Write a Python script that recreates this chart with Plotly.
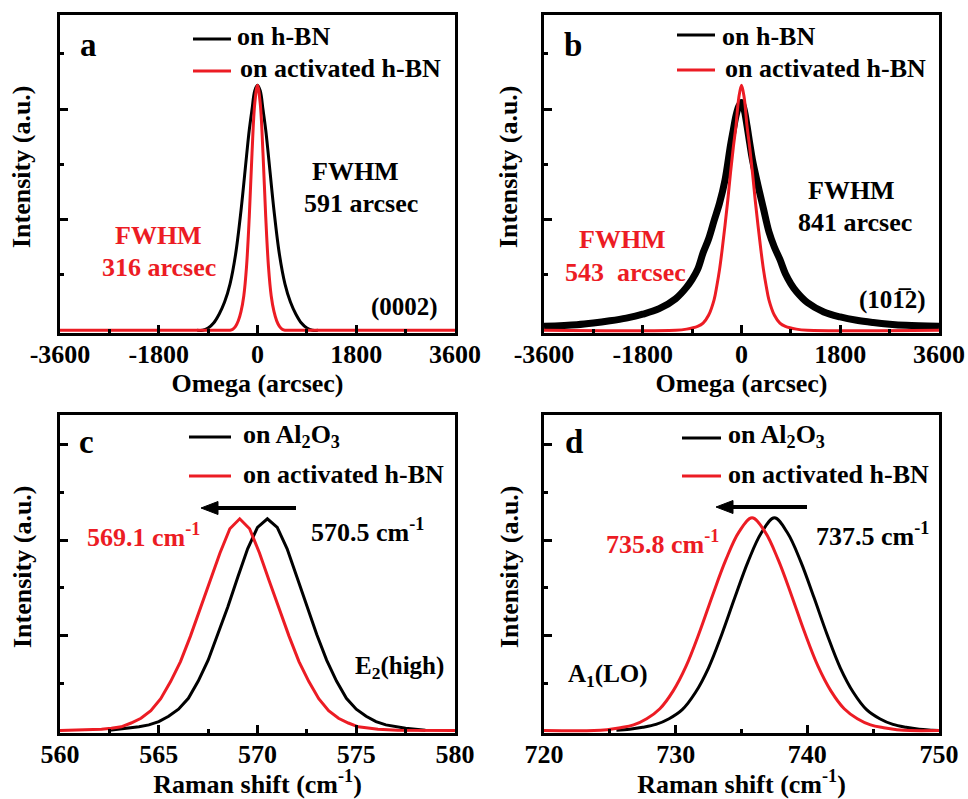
import plotly.graph_objects as go
from plotly.subplots import make_subplots

# ---------------- data ----------------
# (a) rocking curves, (0002) reflection
a_x_hbn = [-1100, -1000, -900, -800, -700, -600, -500, -400, -300, -200, -150, -100, -50, 0,
           50, 100, 150, 200, 300, 400, 500, 600, 700, 800, 900, 1000, 1100]
a_y_hbn = [0, 0, 0.04, 0.13, 0.29, 0.51, 0.84, 1.37, 2.17, 3.15, 3.62, 3.99, 4.33, 4.43,
           4.33, 3.99, 3.62, 3.15, 2.17, 1.37, 0.84, 0.51, 0.29, 0.13, 0.04, 0, 0]
a_x_act = [-3600, -600, -500, -450, -400, -350, -300, -250, -200, -150, -100, -50, 0,
           50, 100, 150, 200, 250, 300, 350, 400, 450, 500, 600, 3600]
a_y_act = [0, 0, 0, 0.02, 0.07, 0.17, 0.34, 0.62, 1.15, 2.05, 3.20, 4.10, 4.43,
           4.10, 3.20, 2.05, 1.15, 0.62, 0.34, 0.17, 0.07, 0.02, 0, 0, 0]

# (b) rocking curves, (10-12) reflection
b_x_hbn = [-3600, -3000, -2700, -2400, -2100, -1800, -1500, -1200, -1000, -900, -800, -700,
           -600, -500, -400, -300, -200, -150, -100, -50, 0, 50, 100, 150, 200, 300, 400,
           500, 600, 700, 800, 900, 1000, 1200, 1500, 1800, 2100, 2400, 2700, 3000, 3600]
b_y_hbn = [0.07, 0.10, 0.13, 0.17, 0.22, 0.29, 0.39, 0.57, 0.78, 0.92, 1.10, 1.40,
           1.65, 1.98, 2.30, 2.72, 3.35, 3.62, 3.88, 4.05, 4.12, 3.98, 3.70, 3.38, 3.08, 2.62, 2.20,
           1.78, 1.50, 1.28, 1.02, 0.84, 0.70, 0.50, 0.33, 0.24, 0.18, 0.14, 0.11, 0.09, 0.07]
b_x_act = [-3600, -1200, -1000, -800, -700, -600, -500, -450, -400, -350, -300, -250, -200,
           -150, -100, -50, 0, 50, 100, 150, 200, 250, 300, 350, 400, 450, 500, 600, 700,
           800, 1000, 1200, 3600]
b_y_act = [0, 0, 0.02, 0.07, 0.13, 0.27, 0.55, 0.80, 1.10, 1.48, 1.90, 2.35, 2.85,
           3.30, 3.70, 4.20, 4.43, 4.20, 3.70, 3.30, 2.85, 2.35, 1.90, 1.48, 1.10, 0.80, 0.55, 0.27, 0.13,
           0.07, 0.02, 0, 0]

# (c) Raman E2(high)
c_x_sap = [562.5, 563.0, 563.5, 564.0, 564.5, 565.0, 565.5, 566.0, 566.5, 567.0, 567.5,
           568.0, 568.5, 569.0, 569.5, 570.0, 570.5, 571.0, 571.5, 572.0, 572.5, 573.0,
           573.5, 574.0, 574.5, 575.0, 575.5, 576.0, 576.5, 577.0, 577.5, 578.0, 578.5]
c_y_sap = [0.01, 0.03, 0.05, 0.08, 0.12, 0.19, 0.30, 0.45, 0.68, 1.04, 1.48,
           2.02, 2.60, 3.22, 3.82, 4.27, 4.45, 4.27, 3.82, 3.22, 2.60, 2.02,
           1.48, 1.04, 0.68, 0.45, 0.30, 0.19, 0.12, 0.08, 0.05, 0.03, 0.01]
c_x_act = [560.0, 561.1, 561.6, 562.1, 562.6, 563.1, 563.6, 564.1, 564.6, 565.1, 565.6,
           566.1, 566.6, 567.1, 567.6, 568.1, 568.6, 569.1, 569.6, 570.1, 570.6, 571.1,
           571.6, 572.1, 572.6, 573.1, 573.6, 574.1, 574.6, 575.1, 575.6, 576.1, 576.6,
           577.1, 580.0]
c_y_act = [0, 0.01, 0.02, 0.03, 0.05, 0.08, 0.16, 0.26, 0.42, 0.67, 1.03,
           1.45, 1.98, 2.55, 3.14, 3.73, 4.24, 4.45, 4.24, 3.73, 3.14, 2.55,
           1.98, 1.45, 1.03, 0.67, 0.42, 0.26, 0.16, 0.08, 0.05, 0.03, 0.02,
           0.01, 0]

# (d) Raman A1(LO)
d_x_sap = [725.5, 726.5, 727.5, 728.5, 729.5, 730.5, 731.5, 732.5, 733.5, 734.5, 735.5,
           736.5, 737.5, 738.5, 739.5, 740.5, 741.5, 742.5, 743.5, 744.5, 745.5, 746.5,
           747.5, 748.5, 749.5, 750.0]
d_y_sap = [0.01, 0.03, 0.07, 0.13, 0.25, 0.44, 0.80, 1.32, 2.02, 2.80, 3.55,
           4.15, 4.47, 4.15, 3.55, 2.80, 2.02, 1.32, 0.80, 0.44, 0.25, 0.13,
           0.07, 0.03, 0.01, 0]
d_x_act = [720.0, 723.8, 724.8, 725.8, 726.8, 727.8, 728.8, 729.8, 730.8, 731.8, 732.8,
           733.8, 734.8, 735.8, 736.8, 737.8, 738.8, 739.8, 740.8, 741.8, 742.8, 743.8,
           744.8, 745.8, 746.8, 747.8, 750.0]
d_y_act = [0, 0.0, 0.02, 0.06, 0.12, 0.25, 0.46, 0.83, 1.36, 2.06, 2.84,
           3.58, 4.17, 4.47, 4.17, 3.58, 2.84, 2.06, 1.36, 0.83, 0.46, 0.25,
           0.12, 0.06, 0.02, 0.0, 0]

# tick values / labels
omega_ticks = [-3600, -1800, 0, 1800, 3600]
omega_labels = ["-3600", "-1800", "0", "1800", "3600"]
omega_minor = [-2700, -900, 900, 2700]
e2_ticks = [560, 565, 570, 575, 580]
e2_labels = ["560", "565", "570", "575", "580"]
e2_minor = [562.5, 567.5, 572.5, 577.5]
a1_ticks = [720, 730, 740, 750]
a1_labels = ["720", "730", "740", "750"]
a1_minor = [725, 735, 745]

# ---------------- styling ----------------
W, H = 968, 799
FONT = "Liberation Serif, Times New Roman, Times, serif"
BLACK = "#000000"
RED = "#ec1c24"


def px(x):
    return x / W


def py(y):
    return 1 - y / H


def f(size, color=BLACK):
    return dict(family=FONT, size=size, color=color)


def b(s):
    return "<b>" + s + "</b>"


fig = make_subplots(rows=2, cols=2)

panels = [
    (1, 1, a_x_hbn, a_y_hbn, a_x_act, a_y_act, "spline", 3),
    (1, 2, b_x_hbn, b_y_hbn, b_x_act, b_y_act, "spline", 7),
    (2, 1, c_x_sap, c_y_sap, c_x_act, c_y_act, "linear", 3),
    (2, 2, d_x_sap, d_y_sap, d_x_act, d_y_act, "spline", 3),
]
for r, c, xk, yk, xr, yr, shape, wk in panels:
    fig.add_trace(go.Scatter(x=xk, y=yk, mode="lines", showlegend=False,
                             line=dict(color=BLACK, width=wk, shape=shape)), row=r, col=c)
    fig.add_trace(go.Scatter(x=xr, y=yr, mode="lines", showlegend=False,
                             line=dict(color=RED, width=3, shape=shape)), row=r, col=c)


def xaxis(domain, rng, vals, labels, minor, title):
    return dict(domain=domain, range=rng, tickvals=vals, ticktext=[b(t) for t in labels],
                ticks="inside", ticklen=8, tickwidth=3, tickcolor=BLACK,
                minor=dict(tickvals=minor, ticks="inside", ticklen=4, tickwidth=3, tickcolor=BLACK),
                showline=True, linewidth=3, linecolor=BLACK, mirror=True, automargin=False,
                showgrid=False, zeroline=False, tickfont=f(26), ticklabelstandoff=-4,
                title=dict(text=b(title), font=f(26), standoff=3))


def yaxis(domain, rng, major):
    return dict(domain=domain, range=rng, tickvals=major, showticklabels=False,
                ticks="inside", ticklen=8, tickwidth=3, tickcolor=BLACK,
                minor=dict(tickvals=[1, 3, 5], ticks="inside", ticklen=4, tickwidth=3, tickcolor=BLACK),
                showline=True, linewidth=3, linecolor=BLACK, mirror=True, automargin=False,
                showgrid=False, zeroline=False)


top = [py(333), py(15)]
bot = [py(733), py(415)]
left = [px(60), px(455)]
right = [px(544), px(939)]

fig.update_layout(
    template="none",
    width=W, height=H, margin=dict(l=0, r=0, t=0, b=0, autoexpand=False),
    paper_bgcolor="white", plot_bgcolor="white", font=f(26),
    xaxis=xaxis(left, [-3600, 3600], omega_ticks, omega_labels, omega_minor, "Omega (arcsec)"),
    xaxis2=xaxis(right, [-3600, 3600], omega_ticks, omega_labels, omega_minor, "Omega (arcsec)"),
    xaxis3=xaxis(left, [560, 580], e2_ticks, e2_labels, e2_minor, "Raman shift (cm<sup>-1</sup>)"),
    xaxis4=xaxis(right, [720, 750], a1_ticks, a1_labels, a1_minor, "Raman shift (cm<sup>-1</sup>)"),
    yaxis=yaxis(top, [-0.05, 5.70], [2, 4]),
    yaxis2=yaxis(top, [-0.05, 5.70], [2, 4]),
    yaxis3=yaxis(bot, [-0.05, 6.63], [2, 4, 6]),
    yaxis4=yaxis(bot, [-0.05, 6.63], [2, 4, 6]),
)

annotations = []
shapes = []


def text(x, y, s, size=26, color=BLACK, anchor="center", angle=0):
    annotations.append(dict(x=px(x), y=py(y), xref="paper", yref="paper", text=b(s),
                            showarrow=False, font=f(size, color), xanchor=anchor,
                            yanchor="middle", textangle=angle))


def key(x0, x1, y, color):
    shapes.append(dict(type="line", xref="paper", yref="paper", x0=px(x0), x1=px(x1),
                       y0=py(y), y1=py(y), line=dict(color=color, width=3)))


def arrow(x_head, x_tail, y):
    # shaft plus a filled triangular head pointing left
    shapes.append(dict(type="line", xref="paper", yref="paper", x0=px(x_head + 12), x1=px(x_tail),
                       y0=py(y), y1=py(y), line=dict(color=BLACK, width=4)))
    path = "M {} {} L {} {} L {} {} Z".format(px(x_head), py(y), px(x_head + 17), py(y - 6.5),
                                              px(x_head + 17), py(y + 6.5))
    shapes.append(dict(type="path", xref="paper", yref="paper", path=path,
                       fillcolor=BLACK, line=dict(color=BLACK, width=1)))


# y-axis titles
for xc, yc in [(22, 167), (509, 167), (22, 567), (509, 567)]:
    text(xc, yc, "Intensity (a.u.)", angle=-90)

# panel a
text(88, 45, "a", 33)
key(193, 231, 39, BLACK)
key(193, 231, 71, RED)
text(235, 36, "on h-BN", 26, anchor="left")
text(238, 69, "on activated h-BN", 26, anchor="left")
text(355, 172, "FWHM")
text(361, 204, "591 arcsec")
text(158, 235, "FWHM", color=RED)
text(159, 267, "316 arcsec", color=RED)
text(404, 307, "(0002)", 25)

# panel b
text(573, 45, "b", 33)
key(677, 715, 35, BLACK)
key(677, 715, 70, RED)
text(720, 36, "on h-BN", 26, anchor="left")
text(723, 68, "on activated h-BN", 26, anchor="left")
text(851, 190, "FWHM")
text(855, 222, "841 arcsec")
text(622, 239, "FWHM", color=RED)
text(625, 272, "543  arcsec", color=RED)
text(892, 300, "(101\u03052)", 25)

# panel c
text(86, 442, "c", 33)
key(189, 231, 437, BLACK)
key(189, 231, 476, RED)
text(241, 436, "on Al<sub>2</sub>O<sub>3</sub>", 26, anchor="left")
text(241, 474, "on activated h-BN", 26, anchor="left")
arrow(201, 296, 508)
text(143, 535, "569.1 cm<sup>-1</sup>", color=RED)
text(367, 530, "570.5 cm<sup>-1</sup>")
text(399, 667, "E<sub>2</sub>(high)", 25)

# panel d
text(574, 442, "d", 33)
key(682, 721, 438, BLACK)
key(682, 721, 476, RED)
text(726, 436, "on Al<sub>2</sub>O<sub>3</sub>", 26, anchor="left")
text(726, 474, "on activated h-BN", 26, anchor="left")
arrow(716, 807, 507)
text(662, 542, "735.8 cm<sup>-1</sup>", color=RED)
text(872, 534, "737.5 cm<sup>-1</sup>")
text(608, 675, "A<sub>1</sub>(LO)", 25)

fig.update_layout(annotations=annotations, shapes=shapes)

fig.write_html("out.html")
